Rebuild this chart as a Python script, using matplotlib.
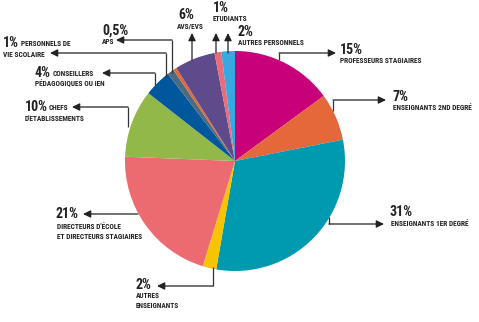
import matplotlib.pyplot as plt

# Répartition des publics (en %)
categories = ['Professeurs stagiaires', 'Enseignants 2nd degré', 'Enseignants 1er degré',
              'Autres enseignants', "Directeurs d'école et directeurs stagiaires",
              "Chefs d'établissements", 'Conseillers pédagogiques ou IEN',
              'Personnels de vie scolaire', 'APS', 'AVS/EVS', 'Etudiants', 'Autres personnels']
values = [15, 7, 31, 2, 21, 10, 4, 1, 0.5, 6, 1, 2]
pct_labels = ['15%', '7%', '31%', '2%', '21%', '10%', '4%', '1%', '0,5%', '6%', '1%', '2%']
name_labels = [['PROFESSEURS STAGIAIRES'], ['ENSEIGNANTS 2ND DEGRÉ'], ['ENSEIGNANTS 1ER DEGRÉ'],
               ['AUTRES', 'ENSEIGNANTS'], ["DIRECTEURS D'ÉCOLE", 'ET DIRECTEURS STAGIAIRES'],
               ['CHEFS', "D'ETABLISSEMENTS"], ['CONSEILLERS', 'PÉDAGOGIQUES OU IEN'],
               ['PERSONNELS DE', 'VIE SCOLAIRE'], ['APS'], ['AVS/EVS'], ['ETUDIANTS'],
               ['AUTRES PERSONNELS']]

colors = ['#c8007a', '#e4683a', '#009ab0', '#f6c400', '#ec6b70', '#93b84a',
          '#00579b', '#4d6b80', '#e4683a', '#5f4a8b', '#ec6b78', '#38a9e0']

# layout in pixels (y down): connector path (last point = arrow tip),
# percent position, name position, and whether the first name line sits beside the percent
layout = [
    dict(path=[(279, 60), (279, 53), (336, 53)], pct=(340, 50), name=(340, 61), inline=False),
    dict(path=[(333, 111), (333, 100), (386, 100)], pct=(393, 97), name=(393, 108), inline=False),
    dict(path=[(329, 217), (329, 224), (384, 224)], pct=(390, 212), name=(391, 224), inline=False),
    dict(path=[(213, 267), (213, 286), (157, 286)], pct=(136, 285), name=(136, 296), inline=False),
    dict(path=[(138, 214), (83, 214)], pct=(56, 214), name=(57, 227), inline=False),
    dict(path=[(128, 127), (128, 107), (72, 107)], pct=(25, 107), name=(49, 108), inline=True),
    dict(path=[(155, 85), (155, 73), (102, 73)], pct=(35, 73), name=(53, 74), inline=True),
    dict(path=[(166, 77), (166, 53), (50, 53)], pct=(3, 43), name=(21, 44), inline=True),
    dict(path=[(172, 73), (172, 40), (116, 40)], pct=(102, 31), name=(102, 42), inline=False),
    dict(path=[(192, 60), (192, 33)], pct=(178, 15), name=(177, 26), inline=False),
    dict(path=[(216, 53), (216, 33)], pct=(213, 8), name=(213, 19), inline=False),
    dict(path=[(228, 53), (228, 33)], pct=(238, 32), name=(238, 43), inline=False),
]

font = ['Roboto Condensed', 'DejaVu Sans']

fig = plt.figure(figsize=(4.79, 3.22), dpi=100)
ax = fig.add_axes([0, 0, 1, 1])

# y axis runs downward, so counterclock in data space turns clockwise on screen
ax.pie(values, colors=colors, startangle=-90, counterclock=True,
       center=(235, 161), radius=110, frame=True,
       wedgeprops=dict(linewidth=0))
ax.set_xlim(0, 479)
ax.set_ylim(322, 0)
ax.set_aspect('equal')
ax.axis('off')

for lay, pct, names in zip(layout, pct_labels, name_labels):
    pts = lay['path']
    xs = [p[0] for p in pts]
    ys = [p[1] for p in pts]
    ax.plot(xs[:-1], ys[:-1], color='#333333', lw=0.9, solid_capstyle='butt')
    ax.annotate('', xy=pts[-1], xytext=pts[-2],
                arrowprops=dict(arrowstyle='-|>,head_length=0.45,head_width=0.22',
                                color='#222222', lw=0.9, shrinkA=0, shrinkB=0))
    px, py = lay['pct']
    ax.text(px, py, pct, family=font, fontsize=10, fontweight='bold',
            color='#222222', va='center', ha='left')
    nx, ny = lay['name']
    for i, line in enumerate(names):
        if lay['inline'] and i > 0:
            x0, y0 = px, ny + 10.5 * i
        else:
            x0, y0 = nx, ny + 10 * i
        ax.text(x0, y0, line, family=font, fontsize=5.3, fontweight='bold',
                color='#222222', va='center', ha='left')

fig.savefig('out.png', dpi=100)
